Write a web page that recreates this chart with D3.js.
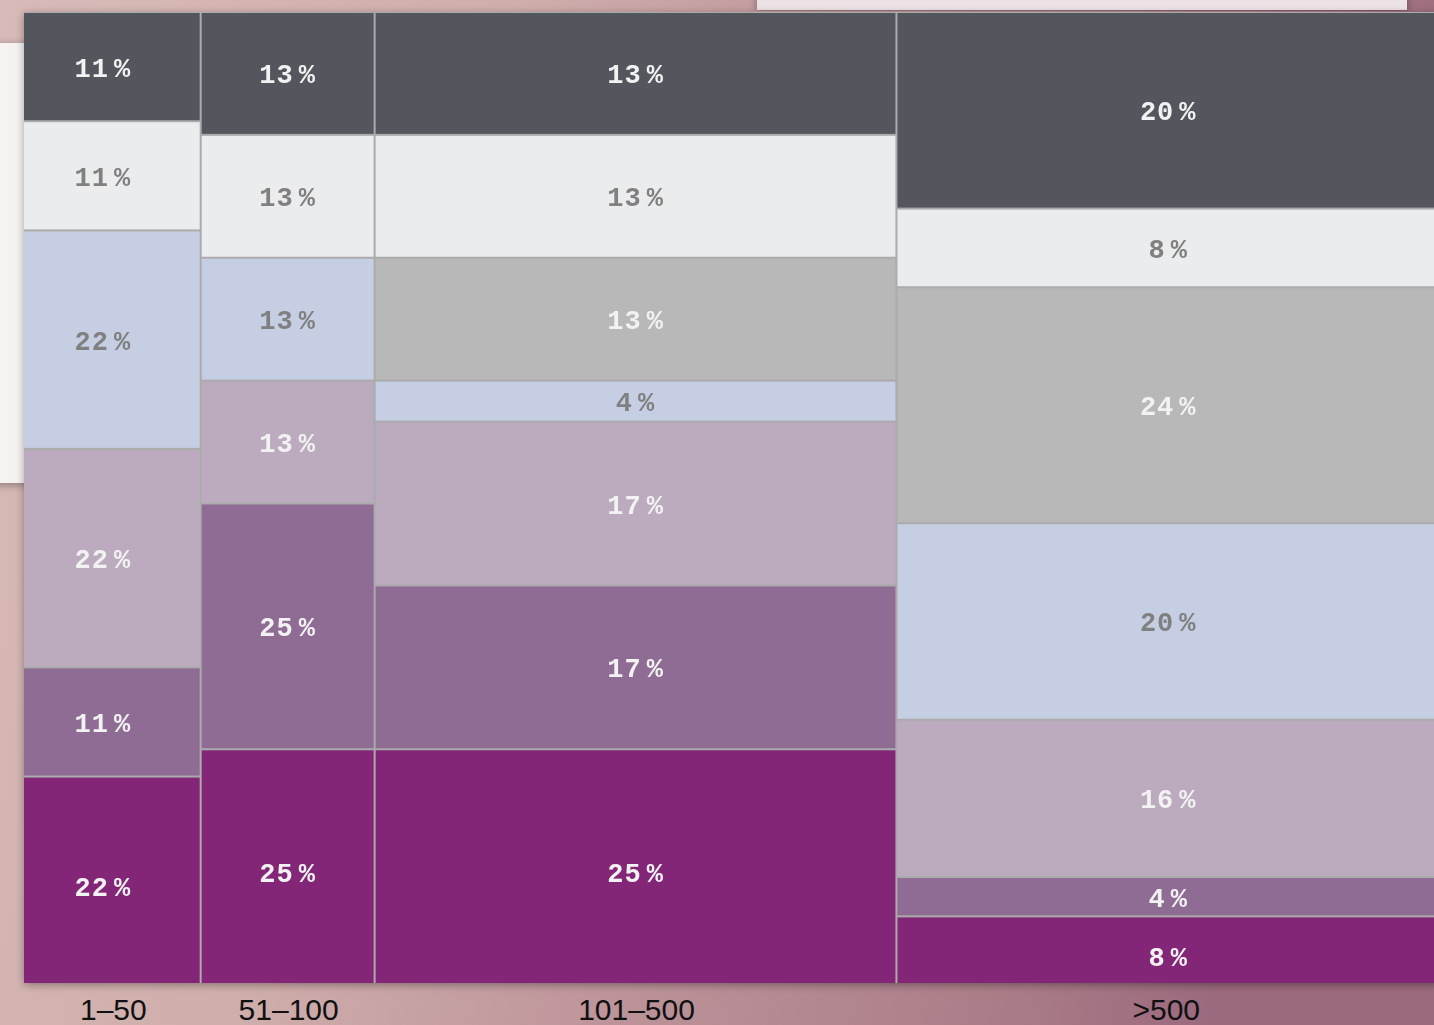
<!DOCTYPE html>
<html>
<head>
<meta charset="utf-8">
<script src="https://cdn.jsdelivr.net/npm/d3@7"></script>
<style>
  html, body { margin: 0; padding: 0; overflow: hidden; background: #c9a5a8; }
  svg { display: block; }
</style>
</head>
<body>
<svg id="chart" width="1434" height="1025"></svg>
<script>
// Company-size groups (column width = number of respondents in the group)
const groups = ["1–50", "51–100", "101–500", ">500"];
const groupTotals = [9, 8, 24, 25];

// Answer categories, stacked from top to bottom
const categories = ["c1", "c2", "c3", "c4", "c5", "c6", "c7"];
const categoryColors = ["#52575c", "#ebecee", "#b8b8b9", "#c5cee2", "#bcaabf", "#8f6c93", "#832878"];
const categoryText = ["#f2f2f2", "#808080", "#f2f2f2", "#808080", "#f2f2f2", "#f2f2f2", "#f2f2f2"];

// Respondent counts per category, one array per group (same order as categories)
const counts1to50 = [1, 1, 0, 2, 2, 1, 2];
const counts51to100 = [1, 1, 0, 1, 1, 2, 2];
const counts101to500 = [3, 3, 3, 1, 4, 4, 6];
const countsOver500 = [5, 2, 6, 5, 4, 1, 2];
const countsByGroup = [counts1to50, counts51to100, counts101to500, countsOver500];

const W = 1434, H = 1025;
const svg = d3.select("#chart");
const defs = svg.append("defs");

// page backdrop
const bg = defs.append("linearGradient").attr("id", "bg").attr("x1", 0).attr("y1", 0).attr("x2", 1).attr("y2", 0.2);
[[0, "#d8bbb8"], [0.35, "#cfaeab"], [0.6, "#bd949a"], [0.85, "#ab7d88"], [1, "#9c6a7e"]]
  .forEach(([o, c]) => bg.append("stop").attr("offset", o).attr("stop-color", c));

const shadow = defs.append("filter").attr("id", "shadow")
  .attr("x", -0.05).attr("y", -0.05).attr("width", 1.1).attr("height", 1.1);
shadow.append("feDropShadow").attr("dx", 0).attr("dy", 2).attr("stdDeviation", 4)
  .attr("flood-color", "#000").attr("flood-opacity", 0.35);

// visible window of the plot
const view = { x0: 24, y0: 12, x1: W, y1: 983 };
defs.append("clipPath").attr("id", "plotClip").append("rect")
  .attr("x", view.x0).attr("y", view.y0)
  .attr("width", view.x1 - view.x0 + 20).attr("height", view.y1 - view.y0);

svg.append("rect").attr("width", W).attr("height", H).attr("fill", "url(#bg)");

// side panels behind the plot
svg.append("rect").attr("x", 757).attr("y", -10).attr("width", 650).attr("height", 20)
  .attr("fill", "#ede3e6").attr("filter", "url(#shadow)");
svg.append("rect").attr("x", -10).attr("y", 43).attr("width", 40).attr("height", 440)
  .attr("fill", "#f6f2f2").attr("filter", "url(#shadow)");

// scales
const cum = d3.cumsum(groupTotals);
const grand = cum[cum.length - 1];
const x = d3.scaleLinear().domain([0, grand]).range([5, 1440]);
const y = d3.scaleLinear().domain([0, 1]).range([12, 995]);

const card = svg.append("g").attr("filter", "url(#shadow)");
const plot = card.append("g").attr("clip-path", "url(#plotClip)");

// separator colour shows through the gaps between cells
plot.append("rect")
  .attr("x", x(0)).attr("y", y(0))
  .attr("width", x(grand) - x(0)).attr("height", y(1) - y(0))
  .attr("fill", "#ababab");

const cells = [];
groups.forEach((g, gi) => {
  const vals = countsByGroup[gi];
  const total = d3.sum(vals);
  const gx0 = x(cum[gi] - groupTotals[gi]);
  const gx1 = x(cum[gi]);
  let acc = 0;
  vals.forEach((v, ci) => {
    if (v === 0) return;
    cells.push({
      group: g, cat: categories[ci], ci,
      x0: gx0, x1: gx1,
      y0: y(acc / total), y1: y((acc + v) / total),
      pct: Math.round(v / total * 100)
    });
    acc += v;
  });
});

plot.selectAll("rect.cell").data(cells).join("rect")
  .attr("class", "cell")
  .attr("x", d => d.x0 + 1).attr("y", d => d.y0 + 1)
  .attr("width", d => d.x1 - d.x0 - 2).attr("height", d => d.y1 - d.y0 - 2)
  .attr("fill", d => categoryColors[d.ci]);

const labels = plot.selectAll("text.val").data(cells).join("text")
  .attr("class", "val")
  .attr("x", d => (d.x0 + d.x1) / 2)
  .attr("y", d => (d.y0 + d.y1) / 2 + 3)
  .attr("text-anchor", "middle")
  .attr("dominant-baseline", "central")
  .attr("font-family", "'Liberation Mono', monospace")
  .attr("font-weight", "bold")
  .attr("font-size", 27)
  .attr("letter-spacing", 1)
  .attr("fill", d => categoryText[d.ci]);
labels.append("tspan").text(d => d.pct);
labels.append("tspan").attr("dx", 5).text("%");

// group labels under the visible part of each column
svg.selectAll("text.grp").data(groups).join("text")
  .attr("class", "grp")
  .attr("x", (g, i) => (Math.max(x(cum[i] - groupTotals[i]), view.x0) + Math.min(x(cum[i]), view.x1)) / 2 + 1)
  .attr("y", 1009)
  .attr("text-anchor", "middle")
  .attr("dominant-baseline", "central")
  .attr("font-family", "'Liberation Sans', Arial, sans-serif")
  .attr("font-size", 30)
  .attr("fill", "#111")
  .text(g => g);
</script>
</body>
</html>
